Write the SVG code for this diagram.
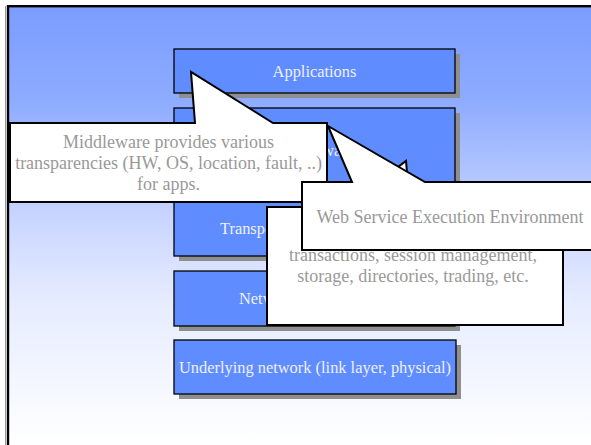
<svg xmlns="http://www.w3.org/2000/svg" width="591" height="445" viewBox="0 0 591 445">
  <defs>
    <linearGradient id="bg" gradientUnits="userSpaceOnUse" x1="0" y1="6" x2="0" y2="445">
      <stop offset="0" stop-color="#7c9dff"/>
      <stop offset="0.214" stop-color="#8dabff"/>
      <stop offset="0.396" stop-color="#b5c7ff"/>
      <stop offset="0.465" stop-color="#c6d3ff"/>
      <stop offset="0.67" stop-color="#e6ecff"/>
      <stop offset="1" stop-color="#ffffff"/>
    </linearGradient>
    <style>
      .layer { fill: #5f8cff; stroke: #000; stroke-width: 1.3; }
      .shadow { fill: #8f8f8f; }
      .layer-text { font-family: "Liberation Serif", "Times New Roman", serif; font-size: 16.4px; fill: #eef1ff; }
      .callout { fill: #ffffff; stroke: #000; stroke-width: 2; stroke-linejoin: miter; }
      .callout-text { font-family: "Liberation Serif", "Times New Roman", serif; font-size: 18px; fill: #999999; text-anchor: middle; }
    </style>
  </defs>

  <!-- slide background and frame -->
  <rect x="0" y="0" width="591" height="445" fill="#ffffff"/>
  <line x1="5.5" y1="6" x2="5.5" y2="445" stroke="#9a9a9a" stroke-width="1"/>
  <rect x="8" y="6.2" width="600" height="460" fill="url(#bg)" stroke="#000" stroke-width="2.4"/>

  <!-- protocol stack layers -->
  <g id="applications">
    <rect class="shadow" x="179" y="54" width="281" height="44"/>
    <rect class="layer" x="174" y="49" width="281" height="44"/>
    <text class="layer-text" x="314.5" y="77" text-anchor="middle">Applications</text>
  </g>
  <g id="middleware">
    <rect class="shadow" x="179" y="113" width="281" height="78"/>
    <rect class="layer" x="174" y="108" width="281" height="78"/>
    <text class="layer-text" x="314.5" y="156" text-anchor="middle">Middleware</text>
  </g>
  <g id="transport">
    <rect class="shadow" x="179" y="206" width="281" height="55"/>
    <rect class="layer" x="174" y="201" width="281" height="55"/>
    <text class="layer-text" x="220" y="234">Transport</text>
  </g>
  <g id="network">
    <rect class="shadow" x="179" y="276" width="281" height="55"/>
    <rect class="layer" x="174" y="271" width="281" height="55"/>
    <text class="layer-text" x="239" y="304">Network</text>
  </g>
  <g id="underlying">
    <rect class="shadow" x="179" y="345" width="282" height="54"/>
    <rect class="layer" x="174" y="340" width="282" height="54"/>
    <text class="layer-text" x="315" y="373" text-anchor="middle">Underlying network (link layer, physical)</text>
  </g>

  <!-- callouts pointing into the stack -->
  <g id="connectors">
    <g id="callout-services">
      <path class="callout" d="M267,207 L345,207 L406,161 L410,207 L563,207 L563,325 L267,325 Z"/>
      <text class="callout-text" x="413" y="261">transactions, session management,</text>
      <text class="callout-text" x="413" y="282">storage, directories, trading, etc.</text>
    </g>
    <g id="callout-transparency">
      <path class="callout" d="M10,123 L195,123 L191,72 L273,123 L327,123 L327,202 L10,202 Z"/>
      <text class="callout-text" x="168.5" y="148">Middleware provides various</text>
      <text class="callout-text" x="168.5" y="169">transparencies (HW, OS, location, fault, ..)</text>
      <text class="callout-text" x="168.5" y="190">for apps.</text>
    </g>
    <g id="callout-web-service">
      <path class="callout" d="M302,182 L352,182 L328,126 L425,182 L600,182 L600,250 L302,250 Z"/>
      <text class="callout-text" x="450" y="223">Web Service Execution Environment</text>
    </g>
  </g>
</svg>
